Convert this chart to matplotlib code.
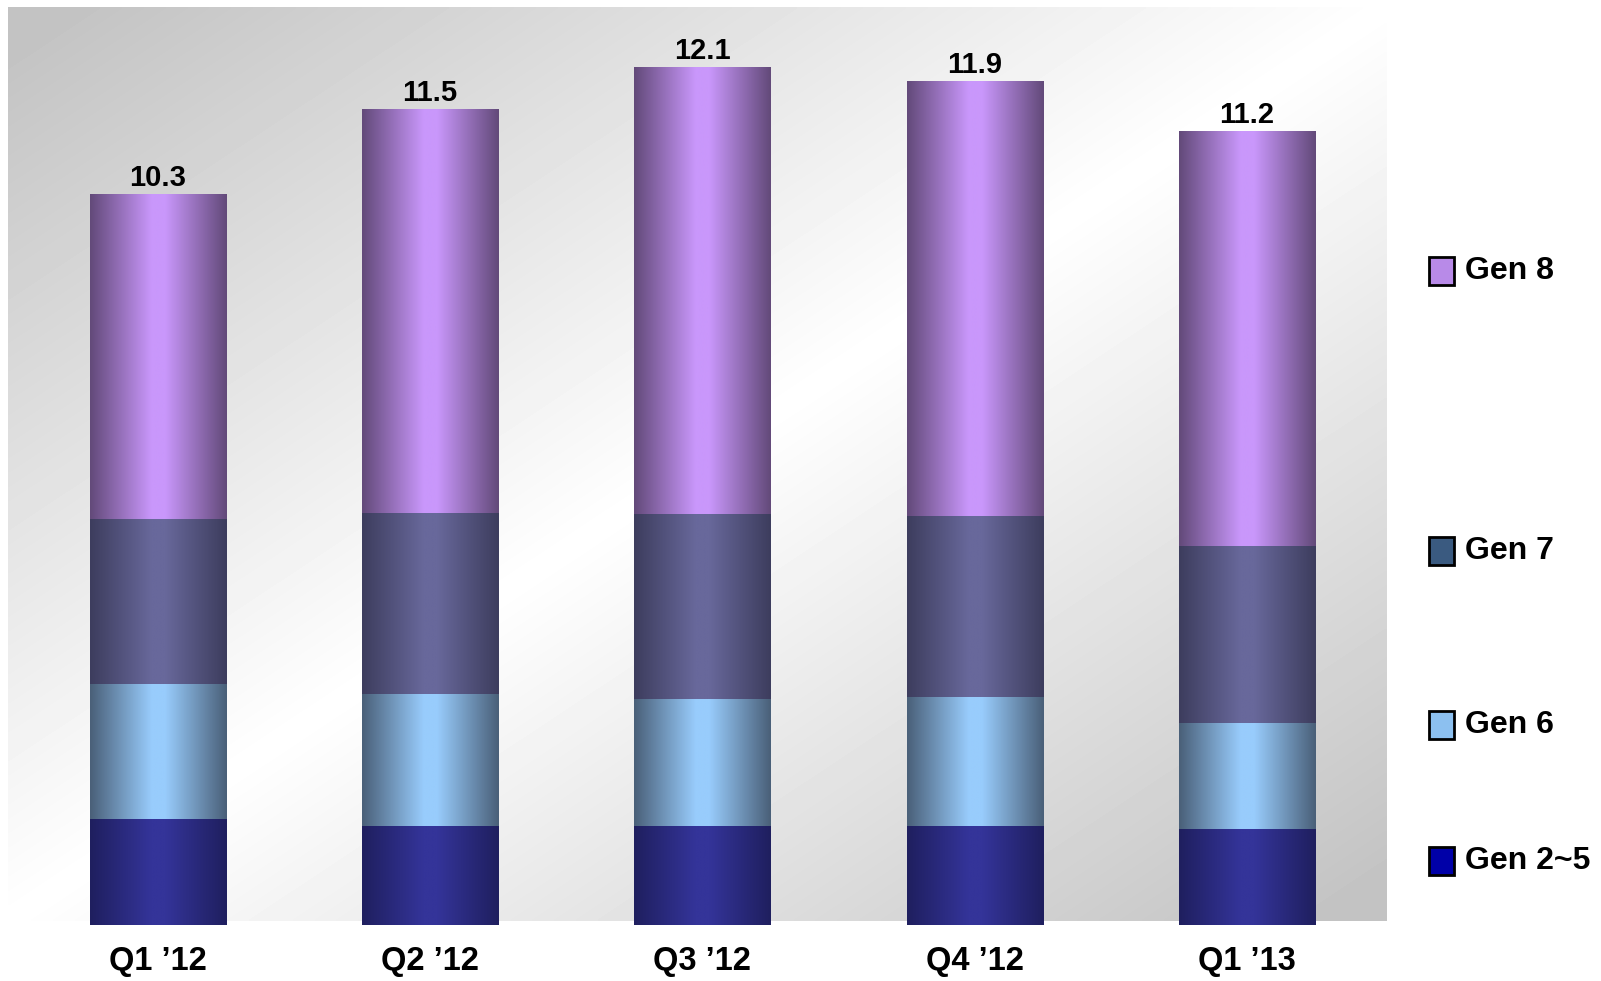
import numpy as np
import matplotlib.pyplot as plt
from matplotlib.colors import LinearSegmentedColormap
from matplotlib.patches import Rectangle

# Datos
quarters = ["Q1 \u201912", "Q2 \u201912", "Q3 \u201912", "Q4 \u201912", "Q1 \u201913"]
gen2_5 = [1.50, 1.40, 1.40, 1.40, 1.35]
gen6 = [1.90, 1.86, 1.79, 1.82, 1.50]
gen7 = [2.32, 2.55, 2.61, 2.55, 2.50]
gen8 = [4.58, 5.69, 6.30, 6.13, 5.85]
totals = [10.3, 11.5, 12.1, 11.9, 11.2]

series_names = ["Gen 2~5", "Gen 6", "Gen 7", "Gen 8"]
# (borde, centro) para el degradado de cada barra
bar_colors = [("#1F1F5F", "#343499"), ("#4A6079", "#98CCFC"),
              ("#3D3D5E", "#68689B"), ("#634A7A", "#C997FB")]
legend_colors = ["#0000A8", "#8CC0F0", "#3A5A80", "#B88AE8"]

FONT = "Liberation Sans"


def main():
    fig = plt.figure(figsize=(16.01, 9.81), dpi=100)
    W, H = 1601, 981

    # --- Fondo con degradado diagonal ---
    bg = fig.add_axes([8 / W, (H - 921) / H, 1378 / W, 914 / H], zorder=0)
    nx, ny = np.meshgrid(np.linspace(0, 1, 400), np.linspace(0, 1, 300))
    u = nx + ny
    val = 0.765 + 0.235 * np.clip(1 - np.abs(u - 1) * 1.05, 0, 1)
    bg.imshow(val, cmap="gray", vmin=0, vmax=1, aspect="auto",
              extent=[0, 1, 1, 0], interpolation="bilinear")
    bg.axis("off")

    # --- Barras apiladas ---
    ax = fig.add_axes([8 / W, (H - 925) / H, 1378 / W, 918 / H], zorder=1)
    ax.patch.set_alpha(0)
    x = np.arange(len(quarters))
    grad = np.linspace(0, 1, 200)[None, :]

    bottom = np.zeros(len(quarters))
    for vals, (edge, center) in zip([gen2_5, gen6, gen7, gen8], bar_colors):
        cmap = LinearSegmentedColormap.from_list(
            "g", [(0, edge), (0.45, center), (0.55, center), (1, edge)])
        bars = ax.bar(x, vals, width=0.5, bottom=bottom, color="none", linewidth=0)
        for r in bars:
            x0, y0 = r.get_x(), r.get_y()
            ax.imshow(grad, cmap=cmap, aspect="auto", interpolation="bilinear",
                      extent=[x0, x0 + r.get_width(), y0, y0 + r.get_height()],
                      zorder=2)
        bottom += np.array(vals)

    for i, t in enumerate(totals):
        ax.annotate(f"{t:.1f}", (x[i], bottom[i]), xytext=(0, 6),
                    textcoords="offset points", ha="center", va="baseline",
                    fontsize=21, fontweight="bold", family=FONT)

    ax.set_xlim(-0.5496, 4.51)
    ax.set_ylim(0, 918 / 70.9)
    ax.set_xticks(x)
    ax.set_xticklabels(quarters, fontsize=23.5, fontweight="bold", family=FONT)
    ax.tick_params(axis="x", length=0, pad=15)
    ax.set_yticks([])
    for s in ax.spines.values():
        s.set_visible(False)

    # --- Leyenda manual ---
    legend_y = [861, 725, 551, 271]
    for name, col, yy in zip(series_names, legend_colors, legend_y):
        fig.add_artist(Rectangle((1429 / W, (H - yy - 14) / H), 25 / W, 28 / H,
                                 transform=fig.transFigure, facecolor=col,
                                 edgecolor="black", linewidth=2))
        fig.text(1465 / W, (H - yy) / H, name, fontsize=23, fontweight="bold",
                 family=FONT, va="center", ha="left")

    fig.savefig("out.png", dpi=100, facecolor="white")


if __name__ == "__main__":
    main()
